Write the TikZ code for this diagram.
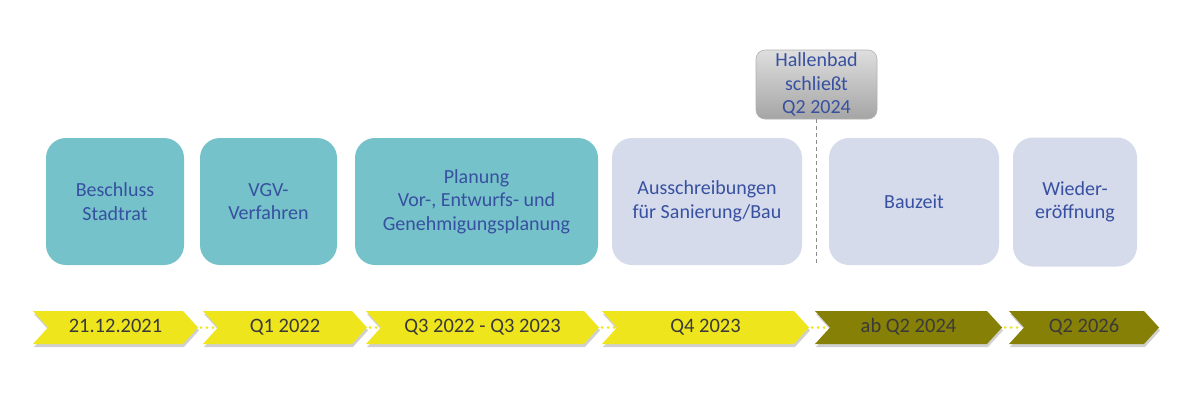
\documentclass[tikz,border=0pt]{standalone}
\usepackage{fontspec}
\setmainfont{Carlito}
\usetikzlibrary{shadows}
\definecolor{tealbox}{RGB}{117,194,202}
\definecolor{lavbox}{RGB}{214,219,236}
\definecolor{chevyellow}{RGB}{239,229,28}
\definecolor{chevolive}{RGB}{134,128,6}
\definecolor{boxtext}{RGB}{55,80,160}
\definecolor{chevtextcol}{RGB}{58,58,58}
\definecolor{hbtop}{RGB}{222,222,222}
\definecolor{hbbot}{RGB}{165,165,165}
\newcommand{\mychev}[5]{%
  \fill[#4, drop shadow={shadow xshift=1pt, shadow yshift=-3pt, opacity=0.3, fill=black!60}]
    (#2,311) -- ({#3-15},311) -- (#3,327.5) -- ({#3-15},344) -- (#2,344) -- ({#2+15},327.5) -- cycle;
  \node[chevlabel] (#1) at ({(#2+#3)/2},327.5) {#5};
  \coordinate (#1tip) at (#3,327.5);
  \coordinate (#1notch) at ({#2+15},327.5);
}
\begin{document}
\begin{tikzpicture}[x=1pt,y=-1pt,
  phase/.style={rounded corners=20pt, inner sep=0pt, align=center,
    text=boxtext, font=\fontsize{20}{23.5}\selectfont, anchor=center},
  done/.style={phase, fill=tealbox},
  todo/.style={phase, fill=lavbox},
  chevlabel/.style={text=chevtextcol, font=\fontsize{20.5}{24}\selectfont, inner sep=0pt,
    text height=13pt, text depth=4pt},
  chevdots/.style={chevyellow, line width=3pt, line cap=round, dash pattern=on 0pt off 6pt},
  milestone/.style={rounded corners=9pt, inner sep=0pt, align=center,
    text=boxtext, font=\fontsize{20}{23.5}\selectfont, draw=black!30, line width=0.6pt,
    top color=hbtop, bottom color=hbbot},
  guide/.style={black!45, dashed, line width=0.6pt, dash pattern=on 4pt off 3pt}
]
\useasboundingbox[fill=white] (0,0) rectangle (1199,415);

% phase boxes
\node[done, minimum width=138pt, minimum height=127pt] (b1) at (115,201.5) {Beschluss\\Stadtrat};
\node[done, minimum width=137pt, minimum height=127pt] (b2) at (268.5,201.5) {VGV-\\Verfahren};
\node[done, minimum width=243pt, minimum height=127pt] (b3) at (476.5,201.5) {Planung\\Vor-, Entwurfs- und\\Genehmigungsplanung};
\node[todo, minimum width=190pt, minimum height=127pt] (b4) at (707,201.5) {Ausschreibungen\\für Sanierung/Bau};
\node[todo, minimum width=170pt, minimum height=127pt] (b5) at (914,201.5) {Bauzeit};
\node[todo, minimum width=124pt, minimum height=129pt] (b6) at (1075,202) {Wieder-\\eröffnung};

% milestone
\node[milestone, minimum width=121pt, minimum height=69pt] (hb) at (816.5,84.5) {Hallenbad\\schließt\\Q2 2024};
\coordinate (hbend) at (816.5,265);
\draw[guide] (hb.south) -- (hbend);

% timeline chevrons
\mychev{c1}{33}{198}{chevyellow}{21.12.2021}
\mychev{c2}{203}{367}{chevyellow}{Q1 2022}
\mychev{c3}{366}{599}{chevyellow}{Q3 2022 - Q3 2023}
\mychev{c4}{602}{809}{chevyellow}{Q4 2023}
\mychev{c5}{815}{1002}{chevolive}{ab Q2 2024}
\mychev{c6}{1009}{1159}{chevolive}{Q2 2026}

\draw[chevdots] ([xshift=3pt]c1tip) -- ([xshift=-3pt]c2notch);
\draw[chevdots] ([xshift=3pt]c2tip) -- ([xshift=-3pt]c3notch);
\draw[chevdots] ([xshift=3pt]c3tip) -- ([xshift=-3pt]c4notch);
\draw[chevdots] ([xshift=3pt]c4tip) -- ([xshift=-3pt]c5notch);
\draw[chevdots] ([xshift=3pt]c5tip) -- ([xshift=-3pt]c6notch);
\end{tikzpicture}
\end{document}
